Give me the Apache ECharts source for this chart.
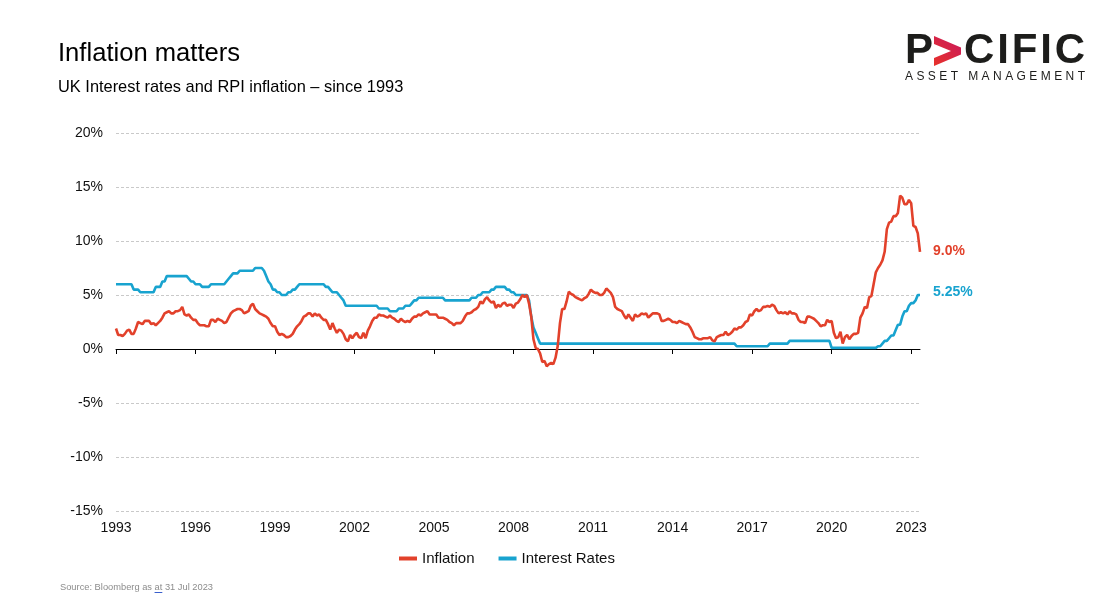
<!DOCTYPE html>
<html>
<head>
<meta charset="utf-8">
<script src="https://cdn.jsdelivr.net/npm/echarts@6/dist/echarts.min.js"></script>
<style>
html,body{margin:0;padding:0;background:#fff;}
#chart{width:1100px;height:600px;}
</style>
</head>
<body>
<div id="chart"></div>
<script>
// ---- data (monthly, Mar 1993 - Jul 2023) ----
var startYear = 1993, startMonth = 3;
var yearTicks = ['1993','1996','1999','2002','2005','2008','2011','2014','2017','2020','2023'];
var yTicks = [-15,-10,-5,0,5,10,15,20];

var inflation = [].concat(
  [1.9,1.3,1.3,1.2,1.4,1.7,1.8,1.4,1.4,1.9],
  [2.5,2.4,2.3,2.6,2.6,2.6,2.3,2.4,2.2,2.4,2.6,2.9],
  [3.3,3.4,3.5,3.3,3.3,3.5,3.5,3.6,3.9,3.2,3.1,3.2],
  [2.9,2.7,2.7,2.4,2.2,2.2,2.2,2.1,2.1,2.7,2.7,2.5],
  [2.8,2.7,2.6,2.4,2.5,2.9,3.3,3.5,3.6,3.7,3.7,3.6],
  [3.3,3.4,3.5,4.0,4.2,3.7,3.5,3.3,3.2,3.1,3.0,2.8],
  [2.4,2.1,2.1,1.6,1.3,1.4,1.3,1.1,1.1,1.2,1.4,1.8],
  [2.1,2.3,2.6,3.0,3.1,3.3,3.3,3.0,3.3,3.1,3.2,2.9],
  [2.7,2.7,2.3,1.8,2.4,1.9,1.5,1.8,1.7,1.4,0.9,0.7],
  [1.3,1.0,1.3,1.5,1.1,1.0,1.5,1.0,1.7,2.1,2.6,2.9],
  [2.9,3.2,3.1,3.1,3.0,2.9,3.1,2.9,2.8,2.6,2.5,2.8],
  [2.6,2.5,2.6,2.5,2.8,3.0,3.0,3.2,3.1,3.3,3.4,3.5],
  [3.2,3.2,3.2,3.2,2.9,2.9,2.9,2.8,2.7,2.5,2.4,2.2],
  [2.4,2.4,2.4,2.6,3.0,3.3,3.3,3.4,3.6,3.7,3.9,4.4],
  [4.2,4.6,4.8,4.5,4.3,4.4,3.8,4.1,3.9,4.2,4.3,4.0],
  [4.1,4.1,3.8,4.2,4.3,4.6,5.0,4.8,5.0,4.2,3.0,0.9],
  [0.1,0.0,-0.4,-1.2,-1.1,-1.6,-1.4,-1.3,-1.4,-0.8,0.3,2.4],
  [3.7,3.7,4.4,5.3,5.1,5.0,4.8,4.7,4.6,4.5,4.7,4.8],
  [5.1,5.5,5.3,5.2,5.2,5.0,5.0,5.2,5.6,5.4,5.2,4.8],
  [3.9,3.7,3.6,3.5,3.1,2.8,3.2,2.9,2.6,3.2,3.0,3.1],
  [3.3,3.2,3.3,2.9,3.1,3.3,3.3,3.3,3.2,2.6,2.6,2.7],
  [2.8,2.7,2.5,2.5,2.4,2.6,2.5,2.4,2.3,2.3,2.0,1.6],
  [1.1,1.0,0.9,0.9,1.0,1.0,1.0,1.1,0.8,0.7,1.1,1.2],
  [1.3,1.3,1.6,1.3,1.4,1.6,1.9,1.8,2.0,2.0,2.2,2.5],
  [2.6,3.2,3.1,3.5,3.7,3.5,3.6,3.9,3.9,4.0,3.9,4.1],
  [4.0,3.6,3.3,3.4,3.3,3.4,3.2,3.5,3.3,3.3,3.2,2.7],
  [2.5,2.5,2.4,3.0,3.0,2.9,2.8,2.6,2.4,2.1,2.2,2.2],
  [2.7,2.5,2.6,1.5,1.0,1.1,1.6,0.5,1.1,1.3,0.9,1.2],
  [1.4,1.4,1.5,2.9,3.3,3.9,3.8,4.8,4.9,6.0,7.1,7.5],
  [7.8,8.2,9.0,11.1,11.7,11.8,12.3,12.3,12.6,14.2,14.0,13.4],
  [13.4,13.8,13.5,11.4,11.3,10.7,9.0]
);

var interestRates = [].concat(
  [6,6,6,6,6,6,6,6,5.5,5.5],
  [5.5,5.25,5.25,5.25,5.25,5.25,5.25,5.25,5.75,5.75,5.75,6.25],
  [6.25,6.75,6.75,6.75,6.75,6.75,6.75,6.75,6.75,6.75,6.75,6.5],
  [6.25,6.25,6,6,6,5.75,5.75,5.75,5.75,6,6,6],
  [6,6,6,6,6.25,6.5,6.75,7,7,7,7.25,7.25],
  [7.25,7.25,7.25,7.25,7.25,7.5,7.5,7.5,7.5,7.25,6.75,6.25],
  [6,5.5,5.5,5.25,5.25,5,5,5,5.25,5.25,5.5,5.5],
  [5.75,6,6,6,6,6,6,6,6,6,6,6],
  [6,5.75,5.75,5.5,5.25,5.25,5.25,5,4.75,4.5,4,4],
  [4,4,4,4,4,4,4,4,4,4,4,4],
  [4,3.75,3.75,3.75,3.75,3.75,3.5,3.5,3.5,3.5,3.75,3.75],
  [3.75,4,4,4,4.25,4.5,4.5,4.75,4.75,4.75,4.75,4.75],
  [4.75,4.75,4.75,4.75,4.75,4.75,4.75,4.5,4.5,4.5,4.5,4.5],
  [4.5,4.5,4.5,4.5,4.5,4.5,4.5,4.75,4.75,4.75,5,5],
  [5.25,5.25,5.25,5.25,5.5,5.5,5.75,5.75,5.75,5.75,5.75,5.5],
  [5.5,5.25,5.25,5,5,5,5,5,5,4.5,3,2],
  [1.5,1,0.5,0.5,0.5,0.5,0.5,0.5,0.5,0.5,0.5,0.5],
  [0.5,0.5,0.5,0.5,0.5,0.5,0.5,0.5,0.5,0.5,0.5,0.5],
  [0.5,0.5,0.5,0.5,0.5,0.5,0.5,0.5,0.5,0.5,0.5,0.5],
  [0.5,0.5,0.5,0.5,0.5,0.5,0.5,0.5,0.5,0.5,0.5,0.5],
  [0.5,0.5,0.5,0.5,0.5,0.5,0.5,0.5,0.5,0.5,0.5,0.5],
  [0.5,0.5,0.5,0.5,0.5,0.5,0.5,0.5,0.5,0.5,0.5,0.5],
  [0.5,0.5,0.5,0.5,0.5,0.5,0.5,0.5,0.5,0.5,0.5,0.5],
  [0.5,0.5,0.5,0.5,0.5,0.5,0.5,0.25,0.25,0.25,0.25,0.25],
  [0.25,0.25,0.25,0.25,0.25,0.25,0.25,0.25,0.25,0.25,0.5,0.5],
  [0.5,0.5,0.5,0.5,0.5,0.5,0.5,0.75,0.75,0.75,0.75,0.75],
  [0.75,0.75,0.75,0.75,0.75,0.75,0.75,0.75,0.75,0.75,0.75,0.75],
  [0.75,0.75,0.1,0.1,0.1,0.1,0.1,0.1,0.1,0.1,0.1,0.1],
  [0.1,0.1,0.1,0.1,0.1,0.1,0.1,0.1,0.1,0.1,0.1,0.25],
  [0.25,0.5,0.75,0.75,1,1.25,1.25,1.75,2.25,2.25,3,3.5],
  [3.5,4,4.25,4.25,4.5,5,5]
);

var endLabels = { inflation: '9.0%', rates: '5.25%' };

// ---- categories ----
var months = [];
for (var i = 0; i < inflation.length; i++) {
  var m = startMonth - 1 + i;
  var yy = startYear + Math.floor(m / 12);
  var mm = (m % 12) + 1;
  months.push(yy + '-' + (mm < 10 ? '0' + mm : mm));
}

var RED = '#E2412B', BLUE = '#18A3CF';
var FONT = '"Liberation Sans", Arial, Helvetica, sans-serif';

// measure helper
var mctx = document.createElement('canvas').getContext('2d');
function tw(str, font) { mctx.font = font; return mctx.measureText(str).width; }

// letter-spaced text spanning x0 (left) to x1 (right edge)
function spacedText(str, font, x0, x1, y, fill) {
  var ws = [], nat = 0;
  for (var k = 0; k < str.length; k++) { var w = tw(str[k], font); ws.push(w); nat += w; }
  var sp = (x1 - x0 - nat) / (str.length - 1);
  var els = [], cx = x0;
  for (var j = 0; j < str.length; j++) {
    els.push({ type: 'text', x: cx, y: y, style: { text: str[j], font: font, fill: fill, align: 'left', textAlign: 'left', verticalAlign: 'middle', textVerticalAlign: 'middle' } });
    cx += ws[j] + sp;
  }
  return els;
}

var LOGO = '#1d1d1b';
var bigFont = 'bold 42px ' + FONT;
var logoEls = [
  { type: 'text', x: 905, y: 51, style: { text: 'P', font: bigFont, fill: LOGO, align: 'left', textAlign: 'left', verticalAlign: 'middle', textVerticalAlign: 'middle' } },
  { type: 'polygon', shape: { points: [[934, 36], [961, 47.5], [961, 54.5], [934, 66], [934, 58], [951, 51], [934, 44]] },
    style: { fill: { type: 'linear', x: 0, y: 1, x2: 1, y2: 0, colorStops: [{ offset: 0, color: '#e8322a' }, { offset: 1, color: '#c8175d' }] } } }
].concat(spacedText('CIFIC', bigFont, 964, 1085, 51, LOGO))
 .concat(spacedText('ASSET MANAGEMENT', '12px ' + FONT, 905, 1085, 77, LOGO));

var srcFont = '9.3px ' + FONT;
var srcPre = 'Source: Bloomberg as ';
var atX = 60 + tw(srcPre, srcFont);
var atW = tw('at', srcFont);

var chart = echarts.init(document.getElementById('chart'));
chart.setOption({
  backgroundColor: '#fff',
  animation: false,
  textStyle: { fontFamily: FONT },
  grid: { left: 116, right: 180, top: 133, bottom: 89, containLabel: false },
  legend: {
    left: 394, top: 546,
    itemWidth: 18, itemHeight: 4, itemGap: 24,
    icon: 'rect',
    textStyle: { fontSize: 15, color: '#111', fontFamily: FONT },
    data: ['Inflation', 'Interest Rates']
  },
  xAxis: [{
    type: 'category', data: months, boundaryGap: false, position: 'bottom',
    axisLine: { show: false, onZero: false },
    axisTick: { show: false },
    axisLabel: {
      interval: 35, margin: 10, fontSize: 14, color: '#111',
      formatter: function (v, idx) { return yearTicks[Math.round(idx / 36)] || ''; }
    },
    splitLine: { show: false }
  }, {
    type: 'category', data: months, boundaryGap: false, position: 'top',
    axisLine: { show: true, onZero: true, lineStyle: { color: '#000', width: 1 } },
    axisTick: { show: true, inside: true, interval: 35, length: 5, lineStyle: { color: '#000' } },
    axisLabel: { show: false },
    splitLine: { show: false }
  }],
  yAxis: {
    type: 'value', min: yTicks[0], max: yTicks[yTicks.length - 1], interval: 5,
    axisLine: { show: false }, axisTick: { show: false },
    axisLabel: { formatter: '{value}%', fontSize: 14, color: '#111', margin: 13 },
    splitLine: { show: true, lineStyle: { color: '#c9c9c9', type: [3, 2], width: 1 } }
  },
  series: [{
    name: 'Inflation', type: 'line', data: inflation, xAxisIndex: 0,
    showSymbol: false, symbol: 'none',
    lineStyle: { color: RED, width: 2.6 }, itemStyle: { color: RED },
    endLabel: { show: true, formatter: endLabels.inflation, color: RED, fontWeight: 'bold', fontSize: 14, distance: 13, offset: [0, -1] },
    z: 3
  }, {
    name: 'Interest Rates', type: 'line', data: interestRates, xAxisIndex: 0,
    showSymbol: false, symbol: 'none',
    lineStyle: { color: BLUE, width: 2.6 }, itemStyle: { color: BLUE },
    endLabel: { show: true, formatter: endLabels.rates, color: BLUE, fontWeight: 'bold', fontSize: 14, distance: 13, offset: [0, -3] },
    z: 2
  }],
  graphic: [
    { type: 'text', x: 58, y: 54, style: { text: 'Inflation matters', font: '25.6px ' + FONT, fill: '#000', align: 'left', textAlign: 'left', verticalAlign: 'middle', textVerticalAlign: 'middle' } },
    { type: 'text', x: 58, y: 87, style: { text: 'UK Interest rates and RPI inflation \u2013 since 1993', font: '16.4px ' + FONT, fill: '#000', align: 'left', textAlign: 'left', verticalAlign: 'middle', textVerticalAlign: 'middle' } }
  ].concat(logoEls).concat([
    { type: 'text', x: 60, y: 587, style: { text: srcPre, font: srcFont, fill: '#8c8c8c', align: 'left', textAlign: 'left', verticalAlign: 'middle', textVerticalAlign: 'middle' } },
    { type: 'text', x: atX, y: 587, style: { text: 'at', font: srcFont, fill: '#8c8c8c', align: 'left', textAlign: 'left', verticalAlign: 'middle', textVerticalAlign: 'middle' } },
    { type: 'line', shape: { x1: atX, y1: 592.5, x2: atX + atW, y2: 592.5 }, style: { stroke: '#3a5fcd', lineWidth: 1 } },
    { type: 'text', x: atX + atW, y: 587, style: { text: ' 31 Jul 2023', font: srcFont, fill: '#8c8c8c', align: 'left', textAlign: 'left', verticalAlign: 'middle', textVerticalAlign: 'middle' } }
  ])
});
</script>
</body>
</html>
